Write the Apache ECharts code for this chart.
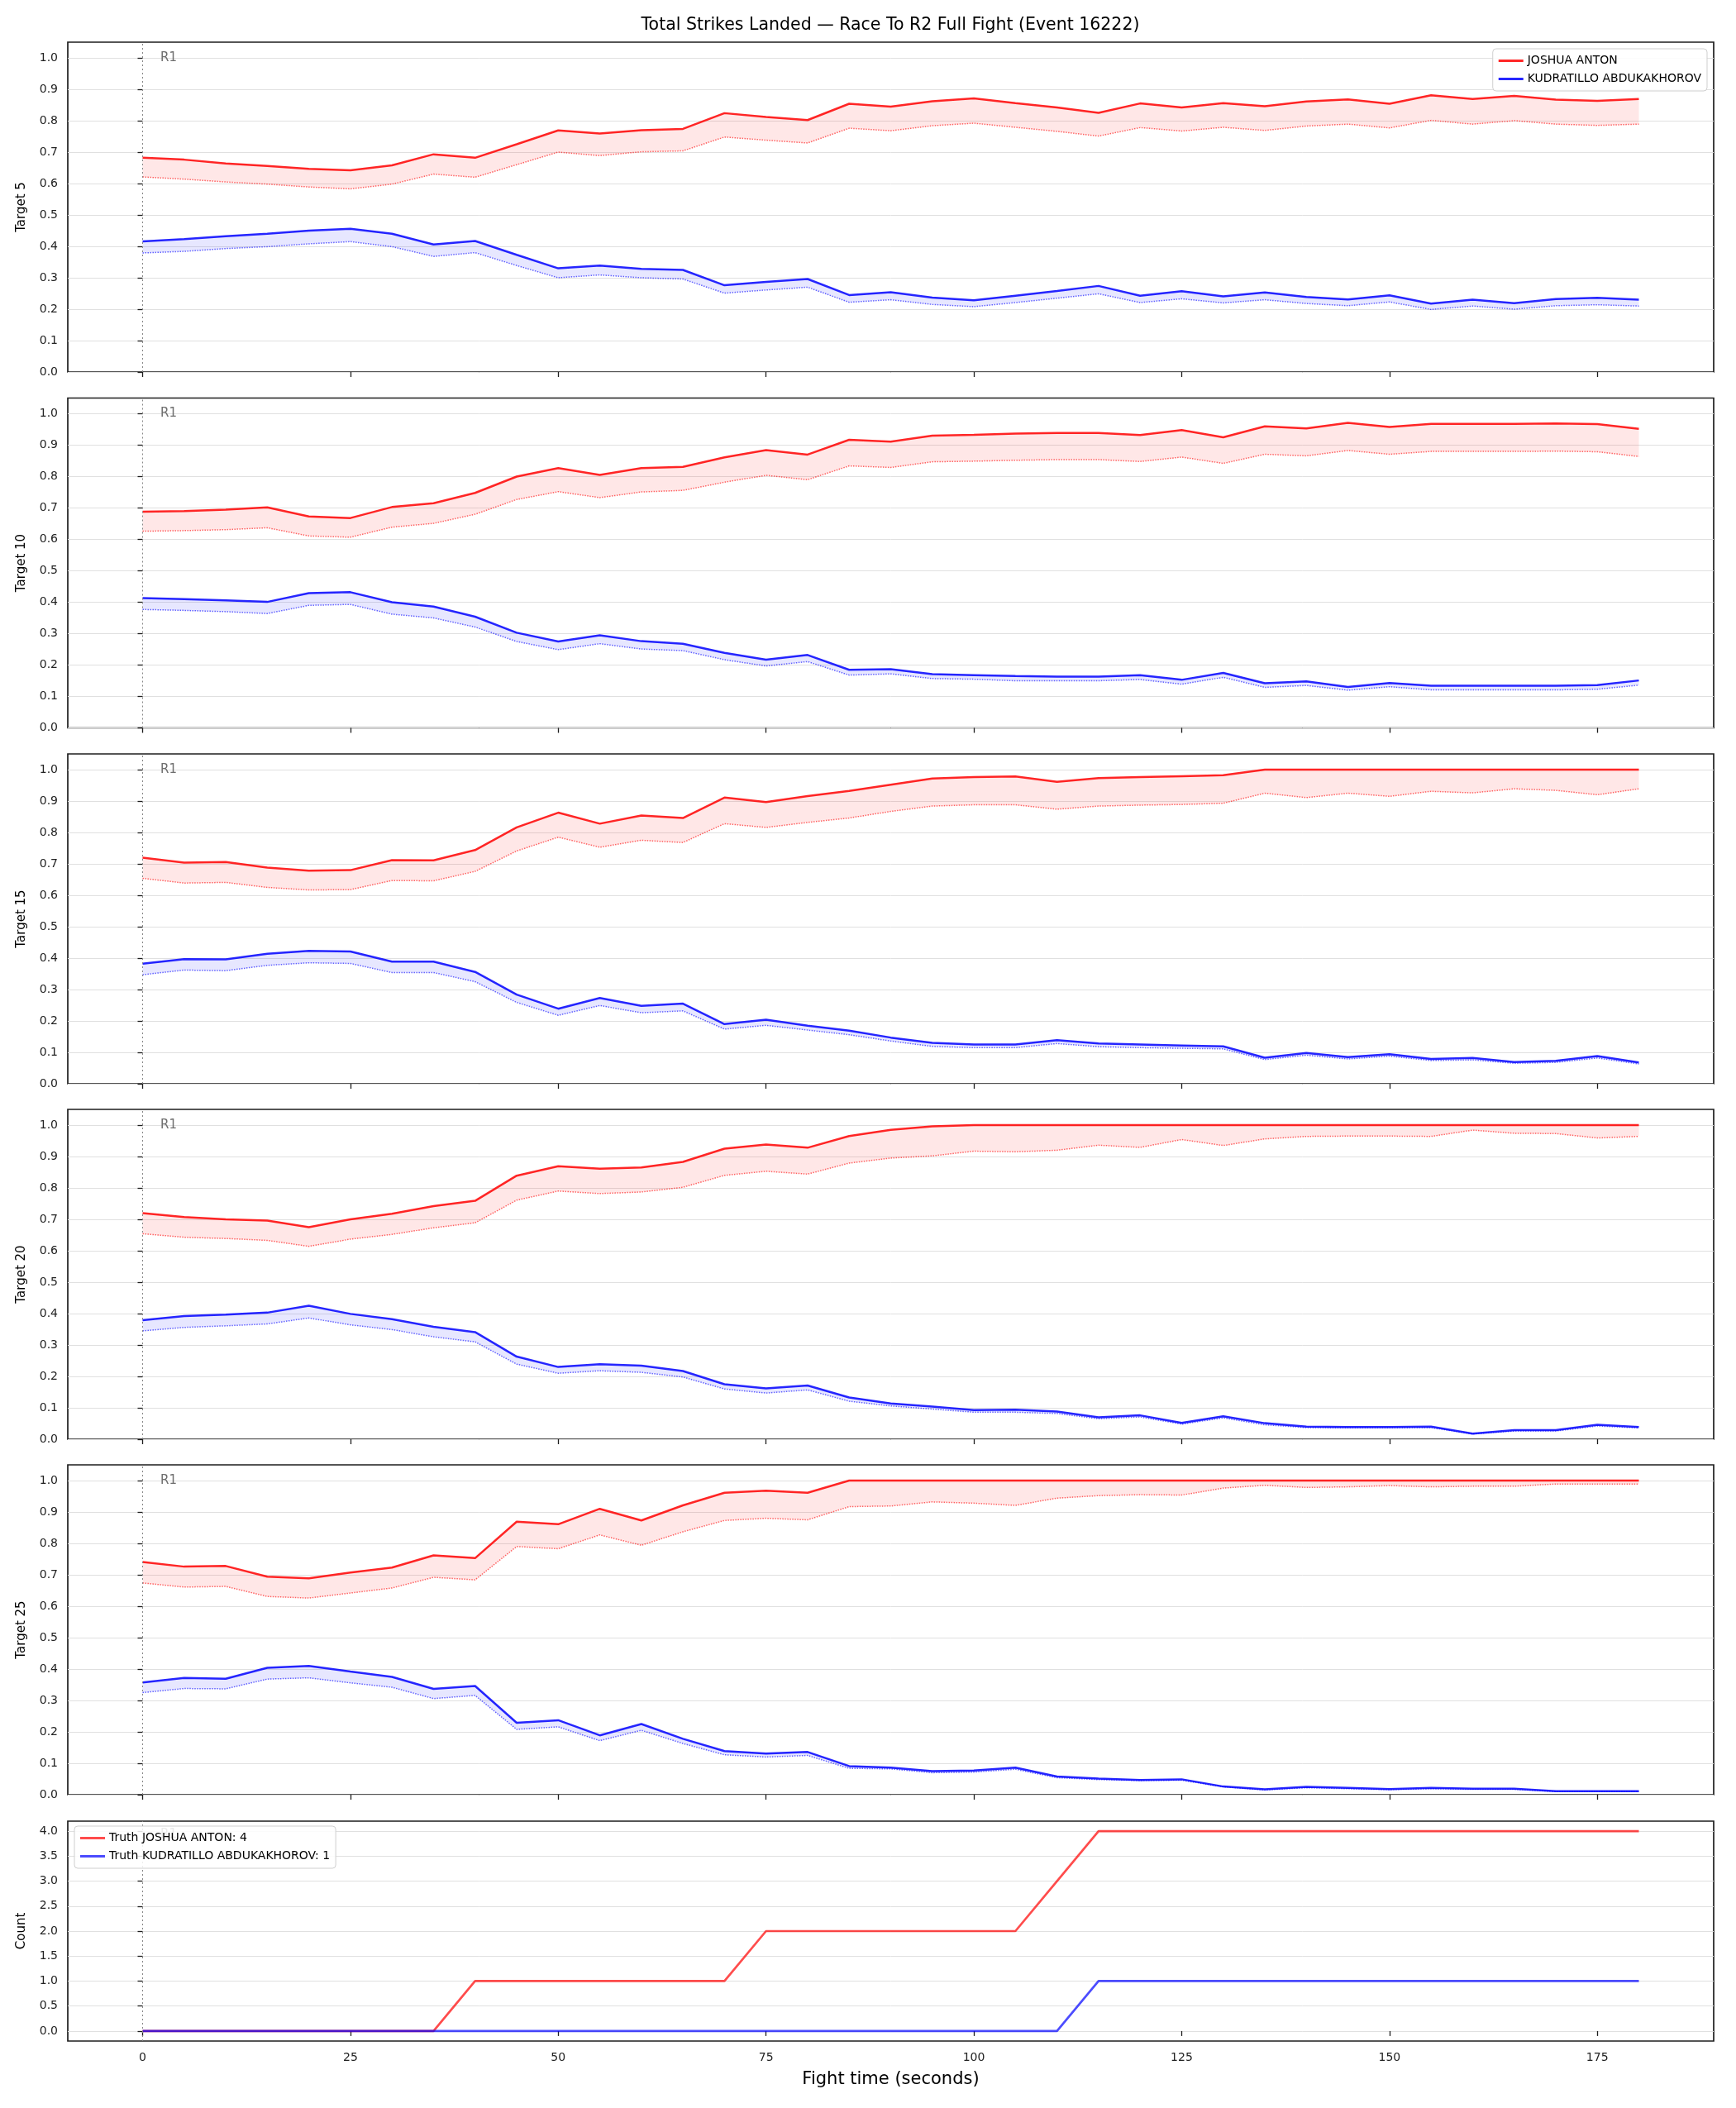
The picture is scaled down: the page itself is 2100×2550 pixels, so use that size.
<!DOCTYPE html>
<html>
<head>
<meta charset="utf-8">
<script src="https://cdn.jsdelivr.net/npm/echarts@6/dist/echarts.min.js"></script>
<style>
html,body{margin:0;padding:0;background:#ffffff;}
#chart{width:2100px;height:2550px;}
</style>
</head>
<body>
<div id="chart"></div>
<script>
// ---------------- data ----------------
const chartTitle = 'Total Strikes Landed \u2014 Race To R2 Full Fight (Event 16222)';
const xAxisTitle = 'Fight time (seconds)';
const fighterA = 'JOSHUA ANTON';
const fighterB = 'KUDRATILLO ABDUKAKHOROV';
const fightTime = [0,5,10,15,20,25,30,35,40,45,50,55,60,65,70,75,80,85,90,95,100,105,110,115,120,125,130,135,140,145,150,155,160,165,170,175,180];
const xTickValues = [0,25,50,75,100,125,150,175];
const probTickValues = [0,0.1,0.2,0.3,0.4,0.5,0.6,0.7,0.8,0.9,1.0];
const countTickValues = [0,0.5,1,1.5,2,2.5,3,3.5,4];
const panelLabels = ['Target 5','Target 10','Target 15','Target 20','Target 25'];
const roundStarts = [0];
const roundNames = ['R1'];

// Target 5
const t5Anton    = [0.682,0.676,0.664,0.656,0.647,0.642,0.658,0.693,0.682,0.725,0.769,0.759,0.770,0.774,0.824,0.812,0.802,0.854,0.845,0.862,0.871,0.856,0.842,0.825,0.855,0.842,0.856,0.846,0.861,0.868,0.854,0.881,0.869,0.879,0.867,0.863,0.869];
const t5AntonLow = [0.621,0.614,0.605,0.598,0.589,0.583,0.598,0.630,0.620,0.660,0.700,0.689,0.701,0.704,0.748,0.738,0.729,0.776,0.768,0.784,0.792,0.779,0.766,0.751,0.778,0.767,0.779,0.769,0.783,0.789,0.777,0.801,0.789,0.800,0.789,0.785,0.789];
const t5Abdu     = [0.416,0.423,0.432,0.440,0.450,0.456,0.440,0.406,0.417,0.373,0.330,0.339,0.328,0.325,0.276,0.287,0.296,0.245,0.254,0.237,0.228,0.243,0.258,0.274,0.243,0.257,0.241,0.253,0.239,0.231,0.244,0.218,0.230,0.219,0.232,0.236,0.230];
const t5AbduLow  = [0.379,0.384,0.393,0.399,0.408,0.415,0.399,0.368,0.380,0.339,0.300,0.309,0.300,0.296,0.251,0.261,0.270,0.222,0.230,0.215,0.208,0.221,0.235,0.249,0.221,0.233,0.220,0.230,0.218,0.211,0.223,0.199,0.210,0.200,0.211,0.214,0.210];
// Target 10
const t10Anton    = [0.688,0.690,0.695,0.702,0.673,0.668,0.703,0.715,0.748,0.800,0.827,0.805,0.827,0.831,0.861,0.884,0.870,0.917,0.911,0.930,0.933,0.937,0.939,0.939,0.932,0.948,0.925,0.960,0.953,0.971,0.958,0.968,0.968,0.968,0.969,0.967,0.952];
const t10AntonLow = [0.626,0.628,0.631,0.637,0.611,0.607,0.639,0.651,0.680,0.727,0.752,0.733,0.751,0.756,0.782,0.804,0.790,0.834,0.829,0.847,0.849,0.852,0.854,0.854,0.848,0.862,0.842,0.871,0.866,0.883,0.871,0.880,0.880,0.880,0.881,0.879,0.864];
const t10Abdu     = [0.413,0.410,0.406,0.401,0.429,0.432,0.400,0.386,0.354,0.303,0.275,0.295,0.276,0.268,0.239,0.217,0.232,0.185,0.187,0.171,0.168,0.165,0.163,0.163,0.168,0.153,0.175,0.142,0.148,0.130,0.143,0.134,0.134,0.134,0.134,0.136,0.151];
const t10AbduLow  = [0.377,0.374,0.370,0.364,0.390,0.393,0.362,0.350,0.321,0.275,0.249,0.268,0.251,0.246,0.217,0.197,0.211,0.168,0.172,0.157,0.155,0.150,0.150,0.150,0.154,0.139,0.161,0.129,0.135,0.120,0.131,0.121,0.121,0.121,0.121,0.123,0.136];
// Target 15
const t15Anton    = [0.720,0.704,0.706,0.688,0.678,0.680,0.712,0.711,0.744,0.816,0.863,0.828,0.854,0.846,0.911,0.897,0.916,0.932,0.952,0.972,0.976,0.978,0.961,0.973,0.976,0.979,0.982,1.000,1.000,1.000,1.000,1.000,1.000,1.000,1.000,1.000,1.000];
const t15AntonLow = [0.654,0.639,0.641,0.625,0.617,0.618,0.647,0.646,0.676,0.741,0.785,0.753,0.775,0.768,0.828,0.816,0.832,0.846,0.867,0.884,0.888,0.888,0.874,0.884,0.887,0.889,0.893,0.925,0.911,0.925,0.915,0.931,0.926,0.939,0.934,0.920,0.939];
const t15Abdu     = [0.382,0.397,0.396,0.414,0.423,0.421,0.389,0.389,0.356,0.284,0.239,0.273,0.248,0.255,0.190,0.204,0.185,0.169,0.147,0.130,0.125,0.125,0.139,0.128,0.125,0.122,0.119,0.083,0.098,0.085,0.094,0.079,0.082,0.069,0.073,0.088,0.068];
const t15AbduLow  = [0.347,0.362,0.360,0.377,0.385,0.383,0.354,0.354,0.325,0.259,0.218,0.249,0.226,0.232,0.174,0.186,0.171,0.156,0.136,0.119,0.115,0.115,0.128,0.118,0.115,0.113,0.111,0.077,0.091,0.079,0.088,0.074,0.076,0.065,0.068,0.082,0.063];
// Target 20
const t20Anton    = [0.720,0.707,0.700,0.696,0.675,0.700,0.718,0.742,0.759,0.839,0.869,0.861,0.865,0.883,0.925,0.938,0.928,0.965,0.985,0.996,1.000,1.000,1.000,1.000,1.000,1.000,1.000,1.000,1.000,1.000,1.000,1.000,1.000,1.000,1.000,1.000,1.000];
const t20AntonLow = [0.654,0.643,0.639,0.633,0.614,0.637,0.652,0.673,0.689,0.761,0.790,0.782,0.787,0.802,0.840,0.853,0.844,0.879,0.895,0.902,0.917,0.915,0.920,0.936,0.929,0.954,0.935,0.956,0.964,0.965,0.965,0.964,0.984,0.974,0.973,0.959,0.964];
const t20Abdu     = [0.379,0.392,0.397,0.403,0.425,0.399,0.382,0.358,0.341,0.263,0.230,0.239,0.234,0.217,0.175,0.162,0.171,0.133,0.114,0.104,0.093,0.094,0.088,0.070,0.076,0.052,0.073,0.051,0.040,0.039,0.039,0.040,0.018,0.029,0.029,0.046,0.039];
const t20AbduLow  = [0.345,0.356,0.361,0.367,0.386,0.364,0.349,0.326,0.310,0.239,0.210,0.218,0.213,0.198,0.160,0.147,0.157,0.121,0.106,0.096,0.086,0.086,0.082,0.065,0.071,0.048,0.068,0.046,0.037,0.036,0.036,0.037,0.017,0.026,0.026,0.042,0.036];
// Target 25
const t25Anton    = [0.741,0.726,0.728,0.694,0.689,0.707,0.723,0.762,0.753,0.869,0.861,0.910,0.873,0.921,0.961,0.968,0.961,1.000,1.000,1.000,1.000,1.000,1.000,1.000,1.000,1.000,1.000,1.000,1.000,1.000,1.000,1.000,1.000,1.000,1.000,1.000,1.000];
const t25AntonLow = [0.674,0.661,0.663,0.631,0.626,0.642,0.658,0.692,0.684,0.790,0.783,0.827,0.794,0.837,0.873,0.880,0.875,0.917,0.919,0.932,0.928,0.921,0.944,0.952,0.955,0.954,0.976,0.985,0.978,0.980,0.984,0.980,0.982,0.982,0.989,0.989,0.989];
const t25Abdu     = [0.357,0.372,0.369,0.404,0.410,0.392,0.375,0.337,0.346,0.229,0.237,0.189,0.225,0.178,0.139,0.131,0.136,0.091,0.086,0.075,0.077,0.086,0.058,0.051,0.047,0.049,0.026,0.017,0.025,0.022,0.018,0.022,0.019,0.019,0.011,0.011,0.011];
const t25AbduLow  = [0.325,0.338,0.337,0.368,0.372,0.356,0.342,0.306,0.316,0.208,0.216,0.172,0.205,0.163,0.127,0.120,0.125,0.084,0.082,0.070,0.072,0.081,0.054,0.048,0.045,0.046,0.025,0.015,0.022,0.019,0.016,0.019,0.017,0.017,0.010,0.010,0.010];
// Truth counts
const truthAnton = [0,0,0,0,0,0,0,0,1,1,1,1,1,1,1,2,2,2,2,2,2,2,3,4,4,4,4,4,4,4,4,4,4,4,4,4,4];
const truthAbdu  = [0,0,0,0,0,0,0,0,0,0,0,0,0,0,0,0,0,0,0,0,0,0,0,1,1,1,1,1,1,1,1,1,1,1,1,1,1];
const truthTotalAnton = 4;
const truthTotalAbdu = 1;

// ---------------- layout / style ----------------
const FONT = 'DejaVu Sans';
const gridLeft = 82, gridWidth = 1991;
const gridTops = [51, 481.5, 912, 1342, 1772, 2203];
const gridHeights = [399, 399, 399, 399, 399, 266];
const redLine = 'rgba(255,0,0,0.85)', redDot = 'rgba(255,0,0,0.6)', redFill = 'rgba(255,0,0,0.095)';
const blueLine = 'rgba(0,0,255,0.85)', blueDot = 'rgba(0,0,255,0.6)', blueFill = 'rgba(0,0,255,0.095)';
const redCount = 'rgba(255,0,0,0.7)', blueCount = 'rgba(0,0,255,0.7)';
const axisColor = '#1e1e1e', gridColor = '#e0e0e0';

const panelSeries = [
  [t5Anton, t5AntonLow, t5Abdu, t5AbduLow],
  [t10Anton, t10AntonLow, t10Abdu, t10AbduLow],
  [t15Anton, t15AntonLow, t15Abdu, t15AbduLow],
  [t20Anton, t20AntonLow, t20Abdu, t20AbduLow],
  [t25Anton, t25AntonLow, t25Abdu, t25AbduLow]
];

const pairs = arr => fightTime.map((t, i) => [t, arr[i]]);

const grids = [], xAxes = [], yAxes = [], series = [];

for (let p = 0; p < 6; p++) {
  const isLast = p === 5;
  grids.push({
    left: gridLeft, top: gridTops[p], width: gridWidth, height: gridHeights[p],
    show: true, borderColor: axisColor, borderWidth: 1.7, backgroundColor: 'transparent',
    outerBoundsMode: 'none', containLabel: false
  });
  xAxes.push({
    type: 'value', gridIndex: p, min: -9, max: 189,
    axisLine: { show: false },
    axisTick: { show: true, inside: false, length: 6, customValues: xTickValues, lineStyle: { color: axisColor, width: 1.3 } },
    axisLabel: { show: isLast, customValues: xTickValues, margin: 13, fontSize: 14, color: '#222', fontFamily: FONT },
    splitLine: { show: false },
    name: isLast ? xAxisTitle : '', nameLocation: 'middle', nameGap: 36,
    nameTextStyle: { fontSize: 21, color: '#000', fontFamily: FONT }
  });
  const ticks = isLast ? countTickValues : probTickValues;
  yAxes.push({
    type: 'value', gridIndex: p,
    min: isLast ? -0.2 : 0, max: isLast ? 4.2 : 1.05,
    axisLine: { show: false },
    axisTick: { show: true, inside: false, length: 6, customValues: ticks, lineStyle: { color: axisColor, width: 1.3 } },
    axisLabel: { show: true, customValues: ticks, margin: 12, fontSize: 14, color: '#222', fontFamily: FONT,
                 formatter: v => Number(v).toFixed(1) },
    splitLine: { show: true, lineStyle: { color: gridColor, width: 1 } },
    name: isLast ? 'Count' : panelLabels[p], nameLocation: 'middle', nameRotate: 90, nameGap: 48,
    nameTextStyle: { fontSize: 15, color: '#000', fontFamily: FONT }
  });
}

const roundMarkLine = {
  silent: true, symbol: ['none', 'none'], animation: false,
  label: { show: false },
  lineStyle: { type: [2, 3], color: '#888', width: 1 },
  data: roundStarts.map(t => ({ xAxis: t }))
};
function roundMarkPoint(yVal) {
  return {
    silent: true, animation: false, symbol: 'circle', symbolSize: 1,
    itemStyle: { color: 'rgba(0,0,0,0)' },
    label: { show: true, position: 'right', distance: 1, color: '#6e6e6e', fontSize: 15, fontFamily: FONT,
             formatter: pt => pt.name },
    data: roundStarts.map((t, i) => ({ name: roundNames[i], coord: [t + 2, yVal] }))
  };
}

// band between an upper and lower curve, drawn as one polygon through the axis scales
function bandSeries(p, name, hi, lo, fill) {
  return {
    type: 'custom', name: name, xAxisIndex: p, yAxisIndex: p, silent: true, animation: false, z: 1,
    data: [[fightTime[0], lo[0]]], encode: { x: 0, y: 1 },
    renderItem: function (params, api) {
      const upper = fightTime.map((t, i) => api.coord([t, hi[i]]));
      const lower = fightTime.map((t, i) => api.coord([t, lo[i]])).reverse();
      return { type: 'polygon', shape: { points: upper.concat(lower) }, style: { fill: fill, stroke: 'none' } };
    }
  };
}

const common = { type: 'line', showSymbol: false, symbol: 'none', animation: false, silent: true };

for (let p = 0; p < 5; p++) {
  const [aHi, aLo, bHi, bLo] = panelSeries[p];
  series.push(bandSeries(p, fighterA + ' band', aHi, aLo, redFill));
  series.push(Object.assign({}, common, {
    name: fighterA + ' lower', xAxisIndex: p, yAxisIndex: p,
    data: pairs(aLo), lineStyle: { color: redDot, width: 1.5, type: [1.5, 1.5] }, itemStyle: { color: redDot },
    markLine: roundMarkLine, markPoint: roundMarkPoint(1.0), z: 2
  }));
  series.push(Object.assign({}, common, {
    name: fighterA, xAxisIndex: p, yAxisIndex: p,
    data: pairs(aHi), lineStyle: { color: redLine, width: 2.5 }, itemStyle: { color: redLine }, z: 3
  }));
  series.push(bandSeries(p, fighterB + ' band', bHi, bLo, blueFill));
  series.push(Object.assign({}, common, {
    name: fighterB + ' lower', xAxisIndex: p, yAxisIndex: p,
    data: pairs(bLo), lineStyle: { color: blueDot, width: 1.5, type: [1.5, 1.5] }, itemStyle: { color: blueDot }, z: 2
  }));
  series.push(Object.assign({}, common, {
    name: fighterB, xAxisIndex: p, yAxisIndex: p,
    data: pairs(bHi), lineStyle: { color: blueLine, width: 2.5 }, itemStyle: { color: blueLine }, z: 3
  }));
}

const truthNameA = 'Truth ' + fighterA + ': ' + truthTotalAnton;
const truthNameB = 'Truth ' + fighterB + ': ' + truthTotalAbdu;
series.push(Object.assign({}, common, {
  name: truthNameA, xAxisIndex: 5, yAxisIndex: 5, data: pairs(truthAnton),
  lineStyle: { color: redCount, width: 2.7 }, itemStyle: { color: redCount },
  markLine: roundMarkLine, markPoint: roundMarkPoint(3.93), z: 2
}));
series.push(Object.assign({}, common, {
  name: truthNameB, xAxisIndex: 5, yAxisIndex: 5, data: pairs(truthAbdu),
  lineStyle: { color: blueCount, width: 2.7 }, itemStyle: { color: blueCount }, z: 3
}));

const legendBase = {
  orient: 'vertical', icon: 'rect', itemWidth: 30, itemHeight: 3, itemGap: 7,
  padding: [7, 7, 7, 7], borderColor: '#cfcfcf', borderWidth: 1, borderRadius: 4,
  backgroundColor: 'rgba(255,255,255,0.85)', selectedMode: false, z: 10,
  textStyle: { fontSize: 14, color: '#000', fontFamily: FONT, lineHeight: 15 }
};

const option = {
  backgroundColor: '#ffffff',
  animation: false,
  textStyle: { fontFamily: FONT },
  graphic: [{
    type: 'text', x: 1077, y: 31, silent: true,
    style: { text: chartTitle, fontSize: 20.5, fontFamily: FONT, fill: '#000', textAlign: 'center', textVerticalAlign: 'middle' }
  }],
  legend: [
    Object.assign({}, legendBase, { right: 35, top: 59, data: [fighterA, fighterB] }),
    Object.assign({}, legendBase, { left: 90, top: 2209, data: [truthNameA, truthNameB] })
  ],
  grid: grids,
  xAxis: xAxes,
  yAxis: yAxes,
  series: series
};

const chart = echarts.init(document.getElementById('chart'), null, { renderer: 'canvas', width: 2100, height: 2550 });
chart.setOption(option);
</script>
</body>
</html>
